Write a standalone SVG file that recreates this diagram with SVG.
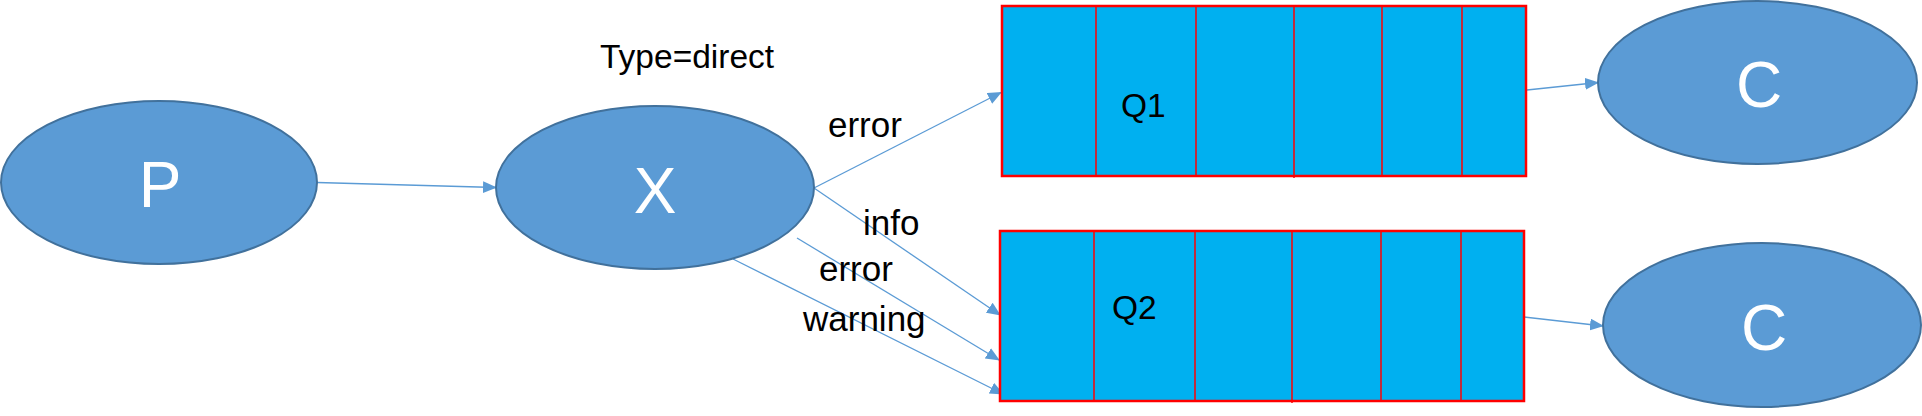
<svg xmlns="http://www.w3.org/2000/svg" width="1922" height="416" viewBox="0 0 1922 416">
<style>
.node ellipse{fill:#5B9BD5;stroke:#41719C;stroke-width:2}
.ntext{font-family:"Liberation Sans",Arial,sans-serif;font-size:64px;fill:#FFFFFF;text-anchor:middle}
.q rect{fill:#00B0F0;stroke:#FF0000;stroke-width:2.5}
.q line{stroke:#FF0000;stroke-width:1.5}
.qtext{font-family:"Liberation Sans",Arial,sans-serif;font-size:33.5px;fill:#000000}
.lbl{font-family:"Liberation Sans",Arial,sans-serif;font-size:35px;fill:#000000}
.conn line{stroke:#5B9BD5;stroke-width:1.3;fill:none;marker-end:url(#arr)}
</style>
<defs>
<marker id="arr" markerUnits="userSpaceOnUse" markerWidth="14" markerHeight="12" refX="13" refY="6" orient="auto">
<path d="M0,0 L14,6 L0,12 Z" fill="#5B9BD5"/>
</marker>
</defs>
<g id="conn" class="conn">
<line x1="317" y1="182.5" x2="496" y2="187.5"/>
<line x1="814" y1="188" x2="1001" y2="92.5"/>
<line x1="814" y1="188" x2="1000" y2="315"/>
<line x1="797" y1="238" x2="999" y2="360"/>
<line x1="733" y1="259" x2="1003" y2="394"/>
<line x1="1527" y1="90" x2="1598" y2="82.5"/>
<line x1="1524" y1="317" x2="1603" y2="326"/>
</g>
<g id="node-P" class="node">
<ellipse cx="159" cy="182.5" rx="158" ry="81.5"/>
<text class="ntext" x="160" y="207">P</text>
</g>
<g id="node-X" class="node">
<ellipse cx="655" cy="187.5" rx="159" ry="81.5"/>
<text class="ntext" x="655" y="212.5">X</text>
</g>
<g id="node-C1" class="node">
<ellipse cx="1757.5" cy="82.5" rx="159.5" ry="81.5"/>
<text class="ntext" x="1759" y="107">C</text>
</g>
<g id="node-C2" class="node">
<ellipse cx="1762" cy="325" rx="159" ry="82"/>
<text class="ntext" x="1764" y="350">C</text>
</g>
<g id="node-Q1" class="q">
<rect x="1002" y="6" width="524" height="170"/>
<line x1="1096" y1="6" x2="1096" y2="176"/>
<line x1="1196" y1="6" x2="1196" y2="176"/>
<line x1="1294" y1="6" x2="1294" y2="178"/>
<line x1="1382" y1="6" x2="1382" y2="176"/>
<line x1="1462" y1="6" x2="1462" y2="176"/>
<text class="qtext" x="1121" y="117">Q1</text>
</g>
<g id="node-Q2" class="q">
<rect x="1000" y="231" width="524" height="170"/>
<line x1="1094" y1="231" x2="1094" y2="401"/>
<line x1="1195" y1="231" x2="1195" y2="401"/>
<line x1="1292" y1="231" x2="1292" y2="403"/>
<line x1="1381" y1="231" x2="1381" y2="401"/>
<line x1="1461" y1="231" x2="1461" y2="401"/>
<text class="qtext" x="1112" y="319">Q2</text>
</g>
<g id="labels">
<text class="lbl" x="600" y="67.5" style="font-size:33.5px">Type=direct</text>
<text class="lbl" x="828" y="137">error</text>
<text class="lbl" x="863" y="235">info</text>
<text class="lbl" x="819" y="281">error</text>
<text class="lbl" x="803" y="331">warning</text>
</g>
</svg>
